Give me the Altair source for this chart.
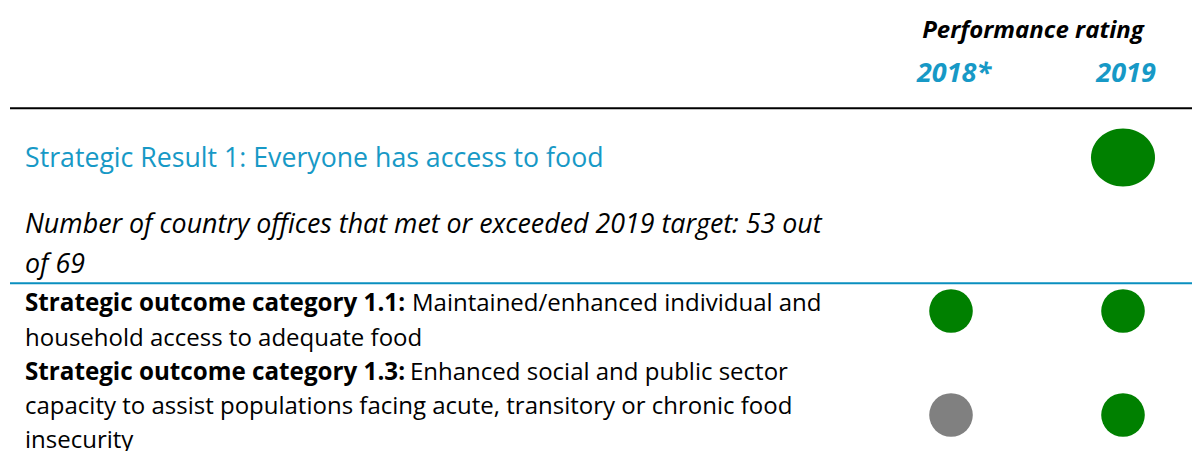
import altair as alt
import pandas as pd

# ---- data ----
years = ["2018*", "2019"]
row_keys = ["sr1", "soc11", "soc13"]
rating_2018 = [None, "Achieved", "Not assessed"]
rating_2019 = ["Achieved", "Achieved", "Achieved"]
rating_levels = ["Achieved", "Not assessed"]
rating_colors = ["#008000", "#808080"]

header_title = "Performance rating"
result_title = "Strategic Result 1: Everyone has access to food"
result_note = ["Number of country offices that met or exceeded 2019 target: 53 out", "of 69"]
soc11_bold = "Strategic outcome category 1.1:"
soc11_text = ["Maintained/enhanced individual and", "household access to adequate food"]
soc13_bold = "Strategic outcome category 1.3:"
soc13_text = ["Enhanced social and public sector",
              "capacity to assist populations facing acute, transitory or chronic food",
              "insecurity"]

FONT = "Open Sans"
BLUE = "#1799c6"

recs = []
for k, r18, r19 in zip(row_keys, rating_2018, rating_2019):
    if r18 is not None:
        recs.append({"row": k, "year": years[0], "rating": r18})
    if r19 is not None:
        recs.append({"row": k, "year": years[1], "rating": r19})
df = pd.DataFrame(recs)

W, H = 1184, 443
xscale = alt.Scale(domain=years, range=[943, 1115], padding=0)
cscale = alt.Scale(domain=rating_levels, range=rating_colors)

base = alt.Chart(df)

ellipse = "M -1 0 A 1 0.906 0 1 0 1 0 A 1 0.906 0 1 0 -1 0 Z"

def circles(row, yv, size, shape):
    return base.transform_filter(alt.datum.row == row).mark_point(
        filled=True, opacity=1, shape=shape, size=size, strokeWidth=0
    ).encode(
        x=alt.X("year:N", scale=xscale, axis=None),
        y=alt.value(yv),
        color=alt.Color("rating:N", scale=cscale, legend=None),
    )

c1 = circles("sr1", 149.5, 4096, ellipse)
c2 = circles("soc11", 303, 1900, "circle")
c3 = circles("soc13", 407, 1900, "circle")

one = pd.DataFrame({"a": [0]})

def txt(text, x, y, size, color="#000000", weight="normal", style="normal", align="left", lh=None):
    kw = dict(font=FONT, fontSize=size, color=color, fontWeight=weight, fontStyle=style,
              align=align, baseline="alphabetic")
    if lh is not None:
        kw["lineHeight"] = lh
    return alt.Chart(one).mark_text(**kw).encode(
        x=alt.value(x), y=alt.value(y), text=alt.value(text))

year_labels = alt.Chart(pd.DataFrame({"year": years})).mark_text(
    font=FONT, fontSize=27, color=BLUE, fontWeight="bold", fontStyle="italic",
    align="center", baseline="alphabetic", dx=3
).encode(
    x=alt.X("year:N", scale=xscale, axis=None),
    y=alt.value(73.5),
    text="year:N",
)

rules = alt.Chart(pd.DataFrame({"c": ["#000000", "#0a8fbf"], "y": [100.3, 275.3]})).mark_rule(
    strokeWidth=2
).encode(
    x=alt.value(2), x2=alt.value(W),
    y=alt.Y("y:Q", scale=alt.Scale(domain=[0, H], range=[0, H]), axis=None),
    color=alt.Color("c:N", scale=None),
)

layers = [
    rules,
    txt(header_title, 1025, 30.3, 24, weight="bold", style="italic", align="center"),
    year_labels,
    txt(result_title, 17, 158.7, 26.7, color=BLUE),
    txt(result_note, 17, 225.3, 26.8, style="italic", lh=39.4),
    txt(soc11_bold, 17, 303, 24.2, weight="bold"),
    txt(soc11_text[0], 404, 303, 24),
    txt(soc11_text[1], 17, 337.7, 24),
    txt(soc13_bold, 17, 372, 24.2, weight="bold"),
    txt(soc13_text[0], 402, 372, 24),
    txt(soc13_text[1:], 17, 405.6, 24, lh=34.3),
    c1, c2, c3,
]

chart = alt.layer(*layers).properties(
    width=W, height=H, padding=0, autosize=alt.AutoSizeParams(type="none")
).configure_view(stroke=None)

chart.save("out.html", embed_options={"renderer": "svg", "actions": False})
